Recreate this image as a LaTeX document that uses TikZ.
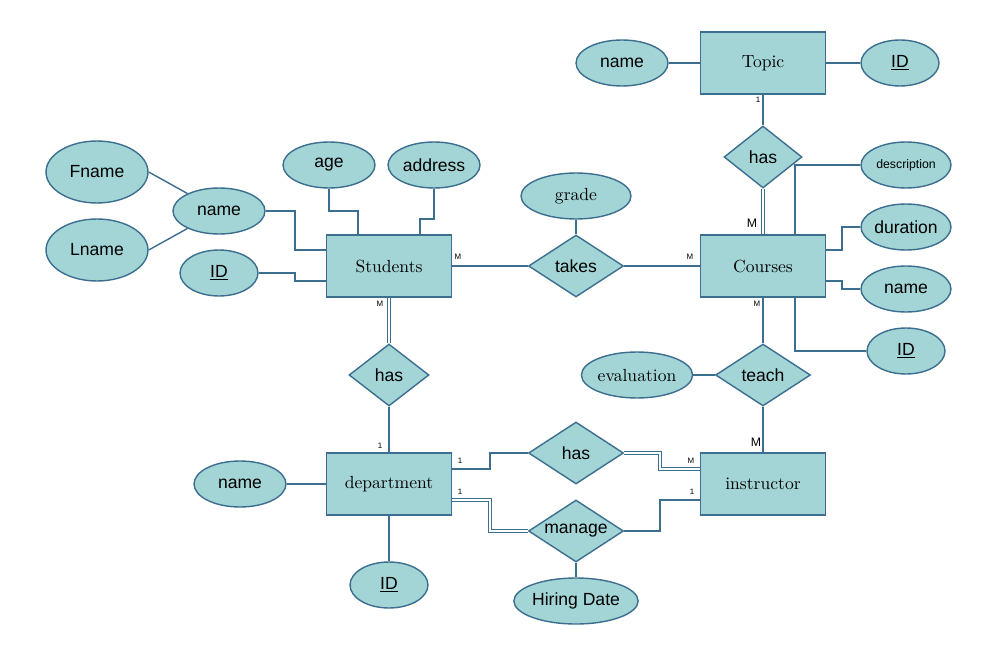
\documentclass[tikz,border=0pt]{standalone}
\usepackage{fontspec}
\setsansfont{Liberation Sans}
\usetikzlibrary{shapes.geometric}
\definecolor{erfill}{HTML}{A3D5D6}
\definecolor{erline}{HTML}{3B6E8F}
\begin{document}
\begin{tikzpicture}[x=0.02cm,y=-0.02cm]
\tikzset{entity/.style = {shape=rectangle,draw=erline,fill=erfill,thick,
		minimum width=2.5cm, minimum height=1.24cm, font=\fontsize{10}{12}\selectfont}}
\tikzset{rel/.style = {shape=diamond,draw=erline,fill=erfill,thick,aspect=1.5,
		minimum width=1.9cm, minimum height=1.24cm, inner sep=0pt, font=\sffamily\fontsize{10}{12}\selectfont}}
\tikzset{attr/.style = {shape=ellipse,draw=erline,fill=erfill,thick,
		minimum width=1.84cm, minimum height=0.92cm, inner sep=0pt, font=\sffamily\fontsize{10}{12}\selectfont}}
\tikzset{link/.style = {draw=erline,thick}}
\tikzset{dlink/.style = {draw=erline,double=white,double distance=1.5pt,semithick}}
\tikzset{card/.style = {font=\sffamily\fontsize{4.5}{5}\selectfont,text=black,inner sep=1pt}}
\useasboundingbox (0,0) rectangle (1000,655);

% entities
\node[entity] (topic) at (763,63) {Topic};
\node[entity] (stud) at (389,266) {Students};
\node[entity] (cour) at (763,266) {Courses};
\node[entity] (dept) at (389,484) {department};
\node[entity] (inst) at (763,484) {instructor};

% relations
\node[rel, minimum width=1.56cm] (hasT) at (763,157) {has};
\node[rel] (takes) at (576,266) {takes};
\node[rel, minimum width=1.6cm] (hasS) at (389,375) {has};
\node[rel] (teach) at (763,375) {teach};
\node[rel] (hasD) at (576,453) {has};
\node[rel] (manage) at (576,531) {manage};

% attributes
\node[attr] (tname) at (622,63) {name};
\node[attr, minimum width=1.56cm] (tid) at (900,63) {\underline{ID}};
\node[attr, minimum width=2.04cm, minimum height=1.24cm] (fname) at (97,172) {Fname};
\node[attr, minimum width=2.04cm, minimum height=1.24cm] (lname) at (97,250) {Lname};
\node[attr] (sname) at (219,211) {name};
\node[attr, minimum width=1.56cm] (sid) at (219,273) {\underline{ID}};
\node[attr] (age) at (329,165) {age};
\node[attr] (addr) at (434,165) {address};
\node[attr, minimum width=2.2cm, font=\fontsize{10}{12}\selectfont] (grade) at (576,196) {grade};
\node[attr, minimum width=1.8cm, font=\sffamily\fontsize{7}{8}\selectfont] (desc) at (906,165) {description};
\node[attr, minimum width=1.8cm] (dur) at (906,227) {duration};
\node[attr, minimum width=1.8cm] (cname) at (906,289) {name};
\node[attr, minimum width=1.56cm] (cid) at (906,351) {\underline{ID}};
\node[attr, font=\fontsize{10}{12}\selectfont] (eval) at (637,375) {evaluation};
\node[attr] (dname) at (240,484) {name};
\node[attr, minimum width=1.56cm] (did) at (389,585) {\underline{ID}};
\node[attr, minimum width=2.2cm] (hire) at (576,601) {Hiring Date};

% edges
\draw[link] (tname) -- (topic);
\draw[link] (tid) -- (topic);
\draw[link] (topic) -- (hasT);
\draw[dlink] (hasT) -- (cour);
\draw[link] (fname.east) -- (sname);
\draw[link] (lname.east) -- (sname);
\draw[link] (sname.east) -| (295,250) -- (stud.west |- 0,250);
\draw[link] (sid.east) -- (295,273) |- (stud.west |- 0,281);
\draw[link] (age.south) |- (358,211) -- (358,235);
\draw[link] (addr.south) |- (420,219) -- (420,235);
\draw[link] (stud) -- (takes);
\draw[link] (takes) -- (cour);
\draw[link] (grade) -- (takes);
\draw[link] (795,235) |- (desc.west);
\draw[link] (cour.east |- 0,250) -| (842,227) -- (dur.west);
\draw[link] (cour.east |- 0,281) -| (842,289) -- (cname.west);
\draw[link] (795,297) |- (cid.west);
\draw[link] (cour) -- (teach);
\draw[link] (teach) -- (inst);
\draw[link] (eval) -- (teach);
\draw[dlink] (stud) -- (hasS);
\draw[link] (hasS) -- (dept);
\draw[link] (dname) -- (dept);
\draw[link] (dept) -- (did);
\draw[link] (dept.east |- 0,469) -| (490,453) -- (hasD.west);
\draw[dlink] (hasD.east) -| (660,469) -- (inst.west |- 0,469);
\draw[dlink] (dept.east |- 0,500) -| (490,531) -- (manage.west);
\draw[link] (manage.east) -| (660,500) -- (inst.west |- 0,500);
\draw[link] (manage) -- (hire);

% cardinalities
\node[card] at (758,100) {1};
\node[card, font=\sffamily\fontsize{7}{8}\selectfont] at (752,223) {M};
\node[card] at (458,257) {M};
\node[card] at (690,257) {M};
\node[card] at (380,304) {M};
\node[card] at (380,446) {1};
\node[card] at (757,304) {M};
\node[card, font=\sffamily\fontsize{7}{8}\selectfont] at (756,442) {M};
\node[card] at (460,461) {1};
\node[card] at (691,461) {M};
\node[card] at (460,492) {1};
\node[card] at (692,492) {1};
\end{tikzpicture}
\end{document}
